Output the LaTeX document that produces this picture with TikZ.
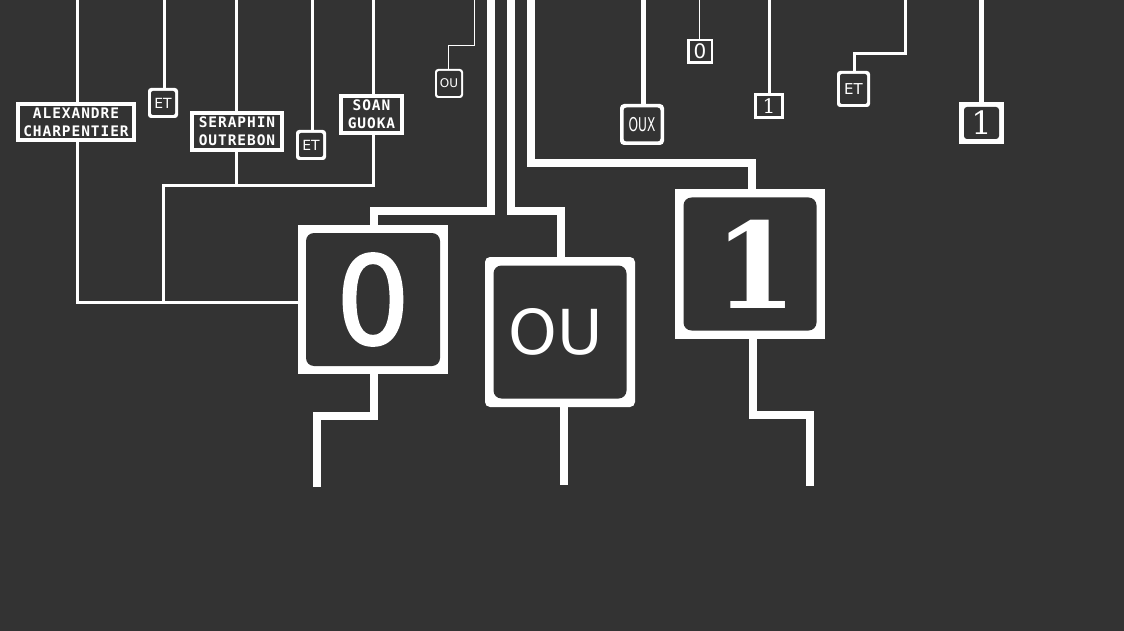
\documentclass[tikz,border=0pt]{standalone}
\usepackage{fontspec}
\usepackage{graphicx}
\newfontfamily\namefont{DejaVu Sans Mono}[LetterSpace=6.5]
\newfontfamily\dvs{DejaVu Sans}
\newfontfamily\dvsfb{DejaVu Sans}[FakeBold=2]
\newfontfamily\dvserif{DejaVu Serif}
\definecolor{bg}{HTML}{333333}
\tikzset{
  gbox/.style n args={5}{fill=white, draw=none, inner sep=0pt, text=white,
    rounded corners=#4, minimum width=#1, minimum height=#2,
    path picture={\fill[bg, rounded corners=#5]
      ([shift={(#3,#3)}]path picture bounding box.south west) rectangle
      ([shift={(-#3,-#3)}]path picture bounding box.north east);}},
  namest/.style={align=center, font=\namefont\bfseries\fontsize{14.5}{18}\selectfont},
  etst/.style={font=\dvs\fontsize{14}{14}\selectfont},
  w1/.style={draw=white, line width=1pt},
  w3/.style={draw=white, line width=3pt},
  w5/.style={draw=white, line width=5pt},
  w8/.style={draw=white, line width=8pt},
}
\begin{document}
\begin{tikzpicture}[x=1pt,y=-1pt]
\fill[bg] (0,0) rectangle (1124,631);
\useasboundingbox (0,0) rectangle (1124,631);

% boxes
\node[gbox={120pt}{40pt}{4pt}{0pt}{0pt}, namest] (alex) at (76,122) {ALEXANDRE\\CHARPENTIER};
\node[gbox={30pt}{30pt}{3pt}{3pt}{2pt}, etst] (et1) at (163,103) {ET};
\node[gbox={94pt}{41pt}{4pt}{0pt}{0pt}, namest] (sera) at (237,131.5) {SERAPHIN\\OUTREBON};
\node[gbox={30pt}{30pt}{3pt}{3pt}{2pt}, etst] (et2) at (311,145) {ET};
\node[gbox={65pt}{41pt}{4pt}{0pt}{0pt}, namest] (soan) at (371.5,114.5) {SOAN\\GUOKA};
\node[gbox={28pt}{29pt}{2pt}{3pt}{2pt}, font=\dvs\fontsize{12}{12}\selectfont] (ous) at (449,83.5) {OU};
\node[gbox={150pt}{149pt}{8pt}{0pt}{8pt}, font=\dvsfb\fontsize{122}{122}\selectfont] (zero) at (373,299.5) {\scalebox{0.95}[1]{0}};
\node[gbox={150pt}{150pt}{8.5pt}{5pt}{8pt}, font=\dvs\fontsize{62}{62}\selectfont] (oubig) at (560,332) {\hspace*{-8pt}OU};
\node[gbox={150pt}{150pt}{8.5pt}{0pt}{8pt}, font=\dvserif\bfseries\fontsize{119}{119}\selectfont] (one) at (750,264) {\hspace*{11pt}1};
\node[gbox={44pt}{41pt}{3.5pt}{4pt}{3pt}, font=\dvs\fontsize{19}{19}\selectfont] (oux) at (642,124.5) {\scalebox{0.64}[1]{OUX}};
\node[gbox={26pt}{25pt}{2.5pt}{0pt}{0pt}, font=\dvs\fontsize{20}{20}\selectfont] (zs) at (700,51.5) {0};
\node[gbox={30pt}{26pt}{2.7pt}{0pt}{0pt}, font=\dvserif\fontsize{20}{20}\selectfont] (os) at (769,106) {1};
\node[gbox={33pt}{36pt}{3pt}{3pt}{2pt}, font=\dvs\fontsize{15}{15}\selectfont] (etr) at (853.5,89) {ET};
\node[gbox={45pt}{42pt}{5pt}{0pt}{3pt}, font=\dvserif\fontsize{32}{32}\selectfont] (oner) at (981.5,123) {1};

% coordinates
\coordinate (t1) at (77.5,0);
\coordinate (t2) at (164.5,0);
\coordinate (t3) at (236.5,0);
\coordinate (t4) at (312.5,0);
\coordinate (t5) at (373.5,0);
\coordinate (t6) at (474.3,0);
\coordinate (u1) at (474.3,46);
\coordinate (u2) at (448.3,46);
\coordinate (t7) at (491,0);
\coordinate (v1) at (491,211);
\coordinate (v2) at (374,211);
\coordinate (t8) at (511,0);
\coordinate (v3) at (511,211);
\coordinate (v4) at (561,211);
\coordinate (t9) at (531,0);
\coordinate (v5) at (531,163);
\coordinate (v6) at (752,163);
\coordinate (t10) at (643.5,0);
\coordinate (t11) at (699.5,0);
\coordinate (t12) at (769.5,0);
\coordinate (t13) at (905.5,0);
\coordinate (r1) at (905.5,53.5);
\coordinate (r2) at (854.5,53.5);
\coordinate (t14) at (981.5,0);
\coordinate (a1) at (77.5,302);
\coordinate (b1) at (236.5,185.5);
\coordinate (b2) at (373.5,185.5);
\coordinate (b3) at (163,185.5);
\coordinate (b4) at (163,302);
\coordinate (z1) at (374,416);
\coordinate (z2) at (317,416);
\coordinate (z3) at (317,487);
\coordinate (o1) at (563.5,485);
\coordinate (n1) at (753,415);
\coordinate (n2) at (810,415);
\coordinate (n3) at (810,486);

% top connectors
\draw[w3] (t1) -- (t1 |- alex.north);
\draw[w3] (t2) -- (t2 |- et1.north);
\draw[w3] (t3) -- (t3 |- sera.north);
\draw[w3] (t4) -- (t4 |- et2.north);
\draw[w3] (t5) -- (t5 |- soan.north);
\draw[w1] (t6) -- (u1) -- (u2) -- (u2 |- ous.north);
\draw[w8] (t7) -- (v1) -- (v2) -- (v2 |- zero.north);
\draw[w8] (t8) -- (v3) -- (v4) -- (v4 |- oubig.north);
\draw[w8] (t9) -- (v5) -- (v6) -- (v6 |- one.north);
\draw[w5] (t10) -- (t10 |- oux.north);
\draw[w1] (t11) -- (t11 |- zs.north);
\draw[w3] (t12) -- (t12 |- os.north);
\draw[w3] (t13) -- (r1) -- (r2) -- (r2 |- etr.north);
\draw[w5] (t14) -- (t14 |- oner.north);

% lower connectors
\draw[w3] (alex.south -| a1) -- (a1) -- (a1 -| zero.west);
\draw[w3] (sera.south -| b1) -- (b1);
\draw[w3] (soan.south -| b2) -- (b2) -- (b3) -- (b4);
\draw[w8] (zero.south -| z1) -- (z1) -- (z2) -- (z3);
\draw[w8] (oubig.south -| o1) -- (o1);
\draw[w8] (one.south -| n1) -- (n1) -- (n2) -- (n3);
\end{tikzpicture}
\end{document}
